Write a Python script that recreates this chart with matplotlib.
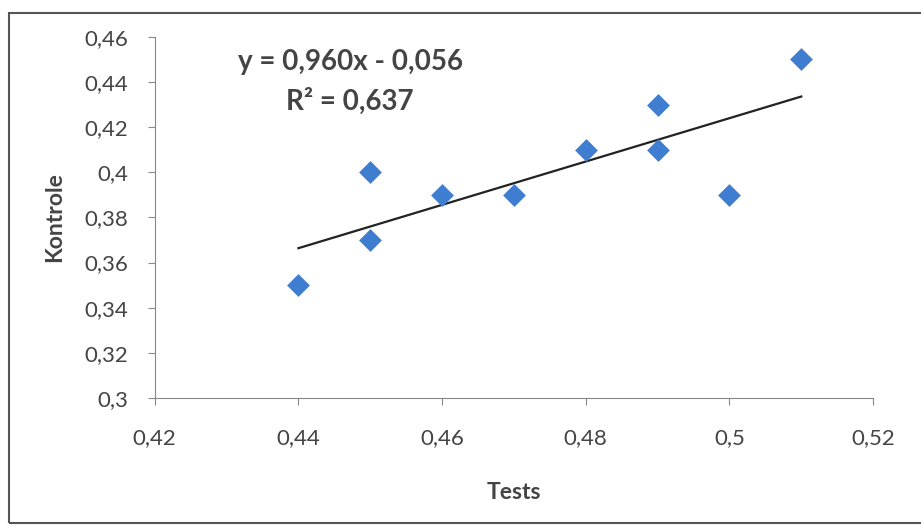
import matplotlib
matplotlib.use("Agg")
import matplotlib.pyplot as plt
from matplotlib.ticker import FuncFormatter, MultipleLocator
from matplotlib.patches import Rectangle
import numpy as np

plt.rcParams['font.family'] = ['Lato', 'DejaVu Sans']

# data
tests = np.array([0.44, 0.45, 0.45, 0.46, 0.47, 0.48, 0.49, 0.49, 0.50, 0.51])
kontrole = np.array([0.35, 0.40, 0.37, 0.39, 0.39, 0.41, 0.43, 0.41, 0.39, 0.45])

# trendline label as printed on the chart
eq_label = 'y = 0,960x - 0,056'
r2_label = 'R² = 0,637'

# linear trendline
slope, intercept = np.polyfit(tests, kontrole, 1)
xfit = np.array([tests.min(), tests.max()])

fig = plt.figure(figsize=(9.21, 5.27), dpi=100)
# chart frame like the Excel chart area
fig.patches.append(Rectangle((0.010, 0.008), 1.2, 0.968, transform=fig.transFigure,
                             fill=False, edgecolor='#555555', linewidth=1.5))
ax = fig.add_axes([0.168, 0.245, 0.780, 0.685])

ax.scatter(tests, kontrole, marker='D', s=135, color='#3F7DD1', zorder=3, linewidths=0)
ax.plot(xfit, slope * xfit + intercept, color='#222222', linewidth=1.6, zorder=2)

ax.set_xlim(0.42, 0.52)
ax.set_ylim(0.30, 0.46)
ax.xaxis.set_major_locator(MultipleLocator(0.02))
ax.yaxis.set_major_locator(MultipleLocator(0.02))
fmt = FuncFormatter(lambda v, p: ('%g' % round(v, 2)).replace('.', ','))
ax.xaxis.set_major_formatter(fmt)
ax.yaxis.set_major_formatter(fmt)

for s in ['top', 'right']:
    ax.spines[s].set_visible(False)
for s in ['left', 'bottom']:
    ax.spines[s].set_color('#888888')
ax.tick_params(axis='both', colors='#888888', labelcolor='#444444', labelsize=16, length=5)
ax.tick_params(axis='x', pad=17)
ax.tick_params(axis='y', pad=14)

ax.set_xlabel('Tests', fontsize=16.5, fontweight='bold', color='#444444', labelpad=24)
ax.set_ylabel('Kontrole', fontsize=16.5, fontweight='bold', color='#444444', labelpad=14)

ax.text(0.4472, 0.4490, eq_label, fontsize=20, fontweight='bold',
        color='#444444', ha='center', va='center')
ax.text(0.4472, 0.4315, r2_label, fontsize=20,
        fontweight='bold', color='#444444', ha='center', va='center')

fig.savefig('out.png', dpi=100)
